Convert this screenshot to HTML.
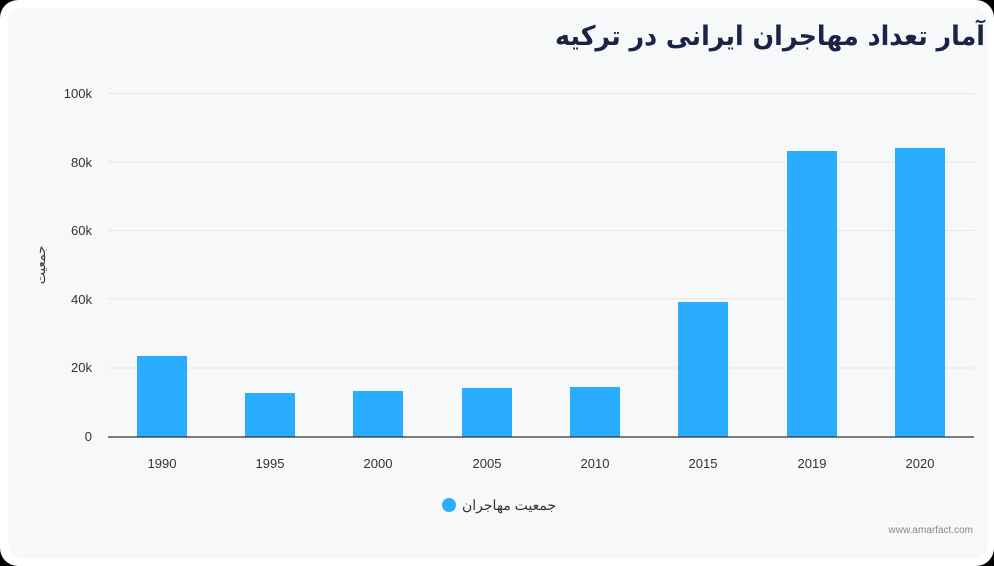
<!DOCTYPE html>
<html><head><meta charset="utf-8"><style>
body{margin:0;width:994px;height:566px;background:#000;overflow:hidden;font-family:"Liberation Sans","Noto Sans CJK SC",sans-serif}
.outer{position:absolute;left:0;top:0;width:994px;height:566px;background:#fff;border-radius:18px}
.inner{position:absolute;left:8px;top:8px;width:980px;height:550px;background:#f7f8fa;border-radius:14px}
</style></head><body>
<div class="outer"></div><div class="inner"></div>
<svg width="994" height="566" style="position:absolute;left:0;top:0">
<text x="985" y="45" text-anchor="end" font-size="27" font-weight="bold" fill="#1b2447" textLength="430" lengthAdjust="spacingAndGlyphs" font-family="'DejaVu Sans','Noto Sans CJK SC',sans-serif">آمار تعداد مهاجران ایرانی در ترکیه</text>
<g stroke="#e4e6ea" stroke-width="1">
<line x1="108" x2="974" y1="93.5" y2="93.5"/><line x1="108" x2="974" y1="162" y2="162"/><line x1="108" x2="974" y1="230.5" y2="230.5"/><line x1="108" x2="974" y1="299" y2="299"/><line x1="108" x2="974" y1="368" y2="368"/>
</g>
<g font-size="13" fill="#333" text-anchor="end">
<text x="92" y="98">100k</text><text x="92" y="167">80k</text><text x="92" y="235">60k</text><text x="92" y="304">40k</text><text x="92" y="372">20k</text><text x="92" y="441">0</text>
</g>
<text transform="translate(45,265) rotate(-90)" font-size="13" fill="#333" text-anchor="middle">جمعیت</text>
<g fill="#2aadff">
<rect x="137" y="356" width="50" height="81"/><rect x="245" y="393" width="50" height="44"/><rect x="353" y="391" width="50" height="46"/><rect x="462" y="388" width="50" height="49"/><rect x="570" y="387" width="50" height="50"/><rect x="678" y="302" width="50" height="135"/><rect x="787" y="151" width="50" height="286"/><rect x="895" y="148" width="50" height="289"/>
</g>
<line x1="108" x2="974" y1="437" y2="437" stroke="#333" stroke-width="1.3"/>
<g font-size="13" fill="#333" text-anchor="middle">
<text x="162" y="468">1990</text><text x="270" y="468">1995</text><text x="378" y="468">2000</text><text x="487" y="468">2005</text><text x="595" y="468">2010</text><text x="703" y="468">2015</text><text x="812" y="468">2019</text><text x="920" y="468">2020</text>
</g>
<circle cx="449" cy="505" r="7" fill="#2aadff"/>
<text x="462" y="510" font-size="14" fill="#333">جمعیت مهاجران</text>
<text x="973" y="533" font-size="10" fill="#888" text-anchor="end">www.amarfact.com</text>
</svg>
</body></html>
